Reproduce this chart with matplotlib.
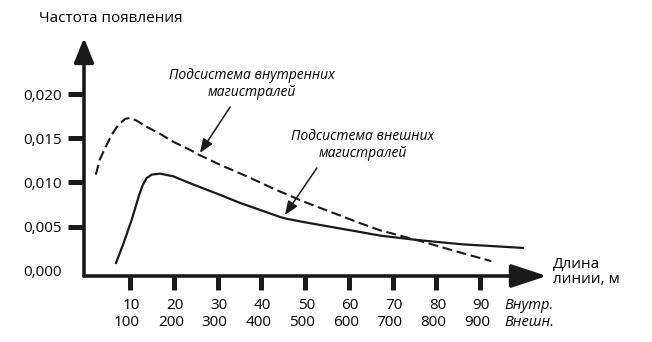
import matplotlib
matplotlib.use("Agg")
import matplotlib.pyplot as plt
from matplotlib.transforms import ScaledTranslation

# ---- data ----
inner_x = [2.2, 3.1, 4.3, 5.8, 7.3, 8.9, 10.0, 11.5, 13.8, 16.9, 19.9, 23.3, 25.9, 30.6,
           36.7, 42.8, 48.9, 55.7, 62.6, 67.1, 75.5, 84.6, 92.6]
inner_y = [0.0109, 0.0126, 0.0139, 0.0154, 0.0165, 0.0172, 0.0173, 0.0170, 0.0163, 0.0155,
           0.0146, 0.0138, 0.0131, 0.0120, 0.0107, 0.0093, 0.0080, 0.0067, 0.0054, 0.0046,
           0.0035, 0.0022, 0.0011]
outer_x = [6.8, 8.5, 10.4, 12.1, 12.9, 13.8, 15.0, 16.9, 19.9, 23.3, 25.9, 30.6, 35.1, 39.7,
           44.3, 45.8, 48.9, 53.4, 58.0, 62.6, 67.1, 75.5, 86.1, 93.0, 99.8]
outer_y = [0.0009, 0.0031, 0.0058, 0.0086, 0.0097, 0.0105, 0.0109, 0.0110, 0.0107, 0.0100,
           0.0095, 0.0086, 0.0077, 0.0069, 0.0061, 0.0059, 0.0056, 0.0052, 0.0048, 0.0044,
           0.0040, 0.0035, 0.0030, 0.0028, 0.0026]
x_ticks = [10, 20, 30, 40, 50, 60, 70, 80, 90]
x_inner_labels = ["10", "20", "30", "40", "50", "60", "70", "80", "90"]
x_outer_labels = ["100", "200", "300", "400", "500", "600", "700", "800", "900"]
y_ticks = [0.000, 0.005, 0.010, 0.015, 0.020]
y_labels = ["0,000", "0,005", "0,010", "0,015", "0,020"]

FONT = "Open Sans"
plt.rcParams['font.family'] = [FONT, 'DejaVu Sans']
FS = 11
INK = '#1a1a1a'

fig = plt.figure(figsize=(6.52, 3.42), dpi=100)
W, H = 652, 342
L, R, T, B = 84, 547, 38, 276
ax = fig.add_axes([L / W, (H - B) / H, (R - L) / W, (B - T) / H])
ax.set_xlim(-0.514, 105.31)
ax.set_ylim(-0.000577, 0.026346)
for s in ax.spines.values():
    s.set_visible(False)
ax.patch.set_visible(False)

# axes with arrows
ax.annotate('', xy=(1, 0), xytext=(0, 0), xycoords='axes fraction',
            arrowprops=dict(arrowstyle='-|>,head_length=0.55,head_width=0.18', lw=2.6,
                            color=INK, mutation_scale=40, shrinkA=0, shrinkB=0))
ax.annotate('', xy=(0, 1), xytext=(0, 0), xycoords='axes fraction',
            arrowprops=dict(arrowstyle='-|>,head_length=0.37,head_width=0.15', lw=2.6,
                            color=INK, mutation_scale=40, shrinkA=0, shrinkB=0))

# curves
ax.plot(inner_x, inner_y, color=INK, lw=1.5, dashes=(4.8, 2.2), solid_joinstyle='round',
        dash_joinstyle='round')
ax.plot(outer_x, outer_y, color=INK, lw=1.6, solid_joinstyle='round')

# ticks
ax.set_yticks(y_ticks)
ax.set_yticklabels(y_labels, fontsize=FS)
ax.tick_params(axis='y', length=11.5, width=3.6, color=INK, pad=4.3, direction='out')
ax.yaxis.get_major_ticks()[0].tick1line.set_visible(False)

ax.set_xticks(x_ticks)
ax.set_xticklabels([a + "\n" + b for a, b in zip(x_inner_labels, x_outer_labels)],
                   fontsize=FS, ha='right', multialignment='right', linespacing=1.12)
ax.tick_params(axis='x', length=10, width=3.6, color=INK, pad=6, direction='out')
off = ScaledTranslation(10 / 100, 0, fig.dpi_scale_trans)
for lab in ax.get_xticklabels():
    lab.set_transform(lab.get_transform() + off)

tr = ax.get_xaxis_transform()
ax.text(95.5, -(314 - 276) / (276 - 38), "Внутр.\nВнешн.", transform=tr, fontsize=FS - 0.5,
        style='italic', ha='left', va='center', linespacing=1.2)

# axis titles
fig.text(39 / W, 1 - 18 / H, "Частота появления", fontsize=FS, ha='left', va='center')
fig.text(553 / W, 1 - 272 / H, "Длина\nлинии, м", fontsize=FS, ha='left', va='center',
         linespacing=1.05)

# annotations
ax.text(37.8, 0.02114, "Подсистема внутренних\nмагистралей", fontsize=FS - 1,
        style='italic', ha='center', va='center', linespacing=1.25)
ax.text(63.25, 0.01424, "Подсистема внешних\nмагистралей", fontsize=FS - 1,
        style='italic', ha='center', va='center', linespacing=1.25)
ap = dict(arrowstyle='-|>,head_length=0.7,head_width=0.28', lw=1.1, color=INK,
          mutation_scale=12, shrinkA=0, shrinkB=0)
ax.annotate('', xy=(26.0, 0.01335), xytext=(32.9, 0.01855), arrowprops=ap)
ax.annotate('', xy=(45.4, 0.00632), xytext=(52.7, 0.01164), arrowprops=ap)

fig.savefig("out.png", dpi=100)
